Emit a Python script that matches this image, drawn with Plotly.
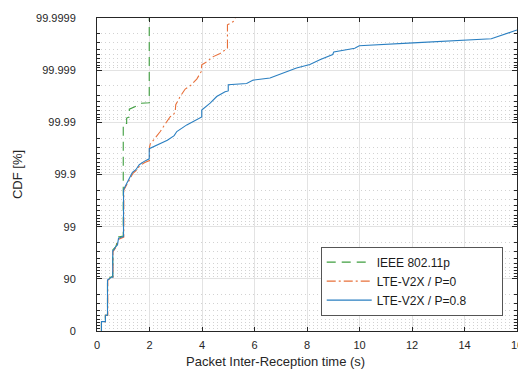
import numpy as np
import plotly.graph_objects as go

# ---- data: inter-reception time (s) and complementary CDF (1 - CDF) ----
ieee_t = [0.17, 0.17, 0.32, 0.32, 0.40, 0.40, 0.55, 0.60, 0.60, 0.72, 0.82, 1.00,
          1.00, 1.13, 1.13, 1.23, 1.23, 1.42, 1.67, 1.99, 1.99]
ieee_ccdf = [1.0, 0.66, 0.66, 0.50, 0.50, 0.102, 0.091, 0.091, 0.028, 0.024, 0.0158, 0.0151,
             1.05e-4, 1.05e-4, 8.3e-5, 7.9e-5, 5.6e-5, 5.1e-5, 4.3e-5, 4.2e-5, 8.9e-7]

lte0_t = [0.17, 0.17, 0.32, 0.32, 0.41, 0.41, 0.55, 0.61, 0.61, 0.72, 0.83, 1.02,
          1.02, 1.10, 1.23, 1.37, 1.50, 1.63, 1.82, 2.00, 2.00, 2.03, 2.15, 2.41, 2.60,
          2.79, 2.91, 2.98, 3.00, 3.17, 3.36, 3.55, 3.80, 3.97, 3.99, 4.18, 4.43, 4.69,
          4.88, 4.97, 4.97, 5.19, 5.32]
lte0_ccdf = [1.0, 0.66, 0.66, 0.50, 0.50, 0.107, 0.093, 0.093, 0.030, 0.025, 0.0174, 0.0158,
             0.0020, 0.00166, 0.00126, 9.5e-4, 8.3e-4, 6.8e-4, 5.9e-4, 5.4e-4, 3.0e-4, 2.6e-4,
             2.2e-4, 1.5e-4, 1.07e-4, 7.8e-5, 7.2e-5, 6.2e-5, 4.6e-5, 3.2e-5, 2.3e-5, 2.0e-5,
             1.48e-5, 1.07e-5, 7.9e-6, 6.9e-6, 5.5e-6, 4.8e-6, 4.1e-6, 3.8e-6, 1.35e-6,
             1.17e-6, 8.9e-7]

lte08_t = [0.17, 0.17, 0.32, 0.32, 0.40, 0.40, 0.47, 0.54, 0.60, 0.60, 0.65, 0.70, 0.78,
           0.82, 0.95, 1.01, 1.01, 1.04, 1.10, 1.16, 1.23, 1.35, 1.48, 1.61, 1.80, 1.92,
           1.99, 1.99, 2.18, 2.43, 2.68, 2.94, 3.04, 3.42, 3.80, 3.99, 3.99, 4.31, 4.56,
           4.88, 5.00, 5.00, 5.70, 5.95, 6.59, 7.03, 7.60, 8.11, 8.49, 8.98, 9.02, 9.82,
           9.99, 12.04, 13.94, 15.02, 16.0]
lte08_ccdf = [1.0, 0.66, 0.66, 0.50, 0.50, 0.105, 0.10, 0.093, 0.093, 0.029, 0.0275, 0.0245,
              0.0224, 0.0166, 0.0158, 0.0155, 0.00195, 0.00182, 0.00158, 0.00138, 0.00117,
              9.1e-4, 8.1e-4, 6.5e-4, 5.6e-4, 5.2e-4, 5.0e-4, 3.2e-4, 2.9e-4, 2.5e-4, 2.2e-4,
              1.8e-4, 1.5e-4, 1.12e-4, 8.9e-5, 7.9e-5, 5.8e-5, 4.3e-5, 3.2e-5, 2.6e-5, 2.5e-5,
              1.9e-5, 1.8e-5, 1.55e-5, 1.41e-5, 1.15e-5, 9.1e-6, 7.8e-6, 6.3e-6, 5.0e-6,
              4.5e-6, 3.8e-6, 3.4e-6, 3.0e-6, 2.7e-6, 2.5e-6, 1.7e-6]

series_names = ["IEEE 802.11p", "LTE-V2X / P=0", "LTE-V2X / P=0.8"]
y_tick_labels = ["0", "90", "99", "99.9", "99.99", "99.999", "99.9999"]
x_ticks = [0, 2, 4, 6, 8, 10, 12, 14, 16]


def nines(ccdf):
    # CDF probability axis: position = -log10(1 - CDF)
    return -np.log10(np.asarray(ccdf, dtype=float))


NB = "\u00a0"
FONT = "Liberation Sans, Arial, sans-serif"
fig = go.Figure()
fig.add_trace(go.Scatter(x=ieee_t, y=nines(ieee_ccdf), mode="lines",
                         name=series_names[0] + NB * 14,
                         line=dict(color="#3f9e3f", width=1.1, dash="9px,6px")))
fig.add_trace(go.Scatter(x=lte0_t, y=nines(lte0_ccdf), mode="lines",
                         name=series_names[1],
                         line=dict(color="#e8703a", width=1.1, dash="9px,3px,2px,3px")))
fig.add_trace(go.Scatter(x=lte08_t, y=nines(lte08_ccdf), mode="lines",
                         name=series_names[2],
                         line=dict(color="#2a7fc1", width=1.1)))

minor_y = [d - np.log10(k / 10) for d in range(6) for k in range(2, 10)]

fig.update_layout(
    width=518, height=371,
    margin=dict(l=97, r=1, t=18, b=40),
    paper_bgcolor="white", plot_bgcolor="white",
    font=dict(family=FONT, size=11, color="#262626"),
    showlegend=True,
    legend=dict(x=0.966, y=0.049, xanchor="right", yanchor="bottom",
                bgcolor="white", bordercolor="#555555", borderwidth=1,
                font=dict(size=12, color="#1a1a1a"), itemwidth=45,
                tracegroupgap=0),
    annotations=[dict(text="Packet Inter-Reception time (s)", xref="paper", yref="paper",
                      x=0.424, y=-0.098, xanchor="center", yanchor="middle",
                      showarrow=False, font=dict(size=13, color="#262626"))],
)
fig.update_xaxes(
    range=[0, 16], tickvals=x_ticks, ticks="inside", ticklen=4, tickcolor="#262626",
    showline=True, linecolor="#262626", linewidth=1, mirror="allticks",
    showgrid=True, gridcolor="#e3e3e3", gridwidth=1, zeroline=False,
    ticklabelstandoff=4, ticklabeloverflow="allow", automargin=False,
)
fig.update_yaxes(
    range=[0, 6], tickvals=list(range(7)), ticktext=y_tick_labels,
    ticks="inside", ticklen=5, tickcolor="#262626",
    showline=True, linecolor="#262626", linewidth=1, mirror="allticks",
    showgrid=True, gridcolor="#e3e3e3", gridwidth=1, zeroline=False,
    ticklabelstandoff=18, automargin=False,
    minor=dict(tickmode="array", tickvals=minor_y, ticks="inside", ticklen=3,
               tickcolor="#262626", showgrid=True, gridcolor="#d2d2d2", griddash="1px,3px",
               gridwidth=1),
    title=dict(text="CDF [%]", font=dict(size=13, color="#262626"), standoff=10),
)

fig.write_html("out.html")
